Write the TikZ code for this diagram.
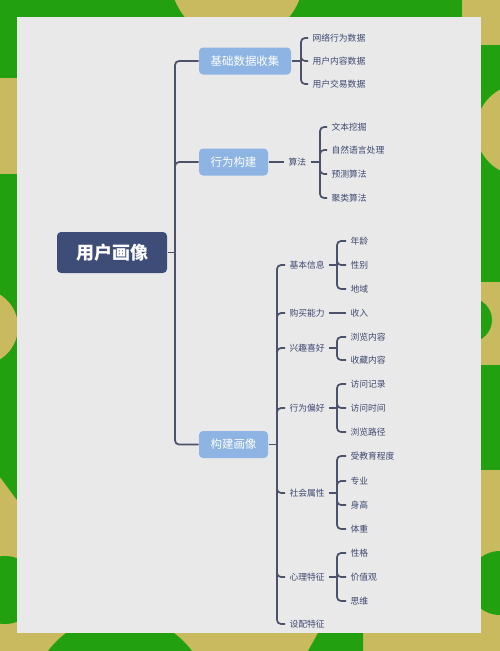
\documentclass[tikz,border=0pt]{standalone}
\usepackage{fontspec}
\setmainfont{Noto Sans CJK SC}

\definecolor{bgolive}{RGB}{201,185,95}
\definecolor{bggreen}{RGB}{35,160,15}
\definecolor{panelc}{RGB}{233,233,233}
\definecolor{rootc}{RGB}{61,77,120}
\definecolor{boxc}{RGB}{141,180,227}
\definecolor{linec}{RGB}{75,82,105}
\definecolor{textc}{RGB}{62,72,112}

\tikzset{every picture/.style={line width=0.75pt},
  link/.style={draw=linec,line width=1.3pt,rounded corners=3pt},
  rootbox/.style={fill=rootc,text=white,rounded corners=3pt,inner sep=0pt,minimum width=82.5pt,minimum height=30.75pt,font=\fontsize{13.5}{16}\selectfont\bfseries},
  lvbox/.style={fill=boxc,text=white,rounded corners=3pt,inner sep=0pt,minimum height=20.25pt,font=\fontsize{8.6}{10}\selectfont},
  leaf/.style={anchor=west,inner sep=0pt,inner xsep=3pt,text=textc,font=\fontsize{6.6}{8}\selectfont}
}

\begin{document}
\begin{tikzpicture}[x=0.75pt,y=0.75pt,yscale=-1,xscale=1]
    \useasboundingbox (0,0) rectangle (500,651);
    \clip (0,0) rectangle (500,651);

    %Shape: Background
    \fill[bgolive] (0,0) rectangle (500,651);
    \fill[bggreen] (0,0) rectangle (462,17);
    \fill[bgolive] (237,-25) circle (67);
    \fill[bggreen] (0,0) rectangle (17,78);
    \fill[bggreen] (0,174) -- (17,174) -- (17,500) -- (0,477) -- cycle;
    \fill[bgolive] (-20,327) circle (38);
    \fill[bggreen] (5,590) circle (34);
    \fill[bggreen] (481,45) rectangle (500,282);
    \fill[bgolive] (522,130) circle (46);
    \fill[bggreen] (470,320) circle (22);
    \fill[bggreen] (481,365) rectangle (500,470);
    \fill[bggreen] (500,583) circle (32);
    \fill[bggreen] (120,705) circle (90);
    \fill[bggreen] (318,633) -- (363,633) -- (363,651) -- (308,651) -- cycle;
    %Shape: Panel
    \fill[panelc] (17,17) rectangle (481,633);

    % Root Node
    \draw (112,252.5) node [rootbox] (yh) {用户画像};
    % Level One Nodes
    \draw (245,61) node [lvbox,minimum width=69pt] (jc) {基础数据收集};
    \draw (233.5,162) node [lvbox,minimum width=51.75pt] (xw) {行为构建};
    \draw (233.5,444.5) node [lvbox,minimum width=51.75pt] (gj) {构建画像};

    % Junctions
    \coordinate (t0) at (175,252.5);
    \coordinate (t1) at (301,61);
    \coordinate (t2) at (320,162);
    \coordinate (t3) at (277,444.5);
    \coordinate (b1) at (337,265);
    \coordinate (b3) at (337,348);
    \coordinate (b4) at (337,408);
    \coordinate (b5) at (337,493);
    \coordinate (b6) at (337,577);

    % Text Node
    \draw (308,38) node [leaf] (sj1) {网络行为数据};
    \draw (308,61) node [leaf] (sj2) {用户内容数据};
    \draw (308,84) node [leaf] (sj3) {用户交易数据};
    % Text Node
    \draw (284,162) node [leaf] (sf) {算法};
    \draw (327,127) node [leaf] (sf1) {文本挖掘};
    \draw (327,150) node [leaf] (sf2) {自然语言处理};
    \draw (327,174) node [leaf] (sf3) {预测算法};
    \draw (327,198) node [leaf] (sf4) {聚类算法};
    % Text Node
    \draw (285,265) node [leaf] (jb) {基本信息};
    \draw (285,313) node [leaf] (gm) {购买能力};
    \draw (285,348) node [leaf] (xq) {兴趣喜好};
    \draw (285,408) node [leaf] (xp) {行为偏好};
    \draw (285,493) node [leaf] (sh) {社会属性};
    \draw (285,577) node [leaf] (xl) {心理特征};
    \draw (285,624) node [leaf] (sp) {设配特征};
    % Text Node
    \draw (346,241) node [leaf] (jb1) {年龄};
    \draw (346,265) node [leaf] (jb2) {性别};
    \draw (346,289) node [leaf] (jb3) {地域};
    \draw (346,313) node [leaf] (gm1) {收入};
    \draw (346,337) node [leaf] (xq1) {浏览内容};
    \draw (346,360) node [leaf] (xq2) {收藏内容};
    \draw (346,384) node [leaf] (xp1) {访问记录};
    \draw (346,408) node [leaf] (xp2) {访问时间};
    \draw (346,432) node [leaf] (xp3) {浏览路径};
    \draw (346,456) node [leaf] (sh1) {受教育程度};
    \draw (346,481) node [leaf] (sh2) {专业};
    \draw (346,505) node [leaf] (sh3) {身高};
    \draw (346,529) node [leaf] (sh4) {体重};
    \draw (346,553) node [leaf] (xl1) {性格};
    \draw (346,577) node [leaf] (xl2) {价值观};
    \draw (346,601) node [leaf] (xl3) {思维};

    % Connectors
    \draw[link] (yh.east) -- (t0);
    \draw[link] (t0) |- (jc.west);
    \draw[link] (t0) |- (xw.west);
    \draw[link] (t0) |- (gj.west);

    \draw[link] (jc.east) -- (t1);
    \draw[link] (t1) |- (sj1.west);
    \draw[link] (t1) |- (sj2.west);
    \draw[link] (t1) |- (sj3.west);

    \draw[link] (xw.east) -- (sf.west);
    \draw[link] (sf.east) -- (t2);
    \draw[link] (t2) |- (sf1.west);
    \draw[link] (t2) |- (sf2.west);
    \draw[link] (t2) |- (sf3.west);
    \draw[link] (t2) |- (sf4.west);

    \draw[link] (gj.east) -- (t3);
    \draw[link] (t3) |- (jb.west);
    \draw[link] (t3) |- (gm.west);
    \draw[link] (t3) |- (xq.west);
    \draw[link] (t3) |- (xp.west);
    \draw[link] (t3) |- (sh.west);
    \draw[link] (t3) |- (xl.west);
    \draw[link] (t3) |- (sp.west);

    \draw[link] (jb.east) -- (b1);
    \draw[link] (b1) |- (jb1.west);
    \draw[link] (b1) |- (jb2.west);
    \draw[link] (b1) |- (jb3.west);
    \draw[link] (gm.east) -- (gm1.west);
    \draw[link] (xq.east) -- (b3);
    \draw[link] (b3) |- (xq1.west);
    \draw[link] (b3) |- (xq2.west);
    \draw[link] (xp.east) -- (b4);
    \draw[link] (b4) |- (xp1.west);
    \draw[link] (b4) |- (xp2.west);
    \draw[link] (b4) |- (xp3.west);
    \draw[link] (sh.east) -- (b5);
    \draw[link] (b5) |- (sh1.west);
    \draw[link] (b5) |- (sh2.west);
    \draw[link] (b5) |- (sh3.west);
    \draw[link] (b5) |- (sh4.west);
    \draw[link] (xl.east) -- (b6);
    \draw[link] (b6) |- (xl1.west);
    \draw[link] (b6) |- (xl2.west);
    \draw[link] (b6) |- (xl3.west);

\end{tikzpicture}
\end{document}
